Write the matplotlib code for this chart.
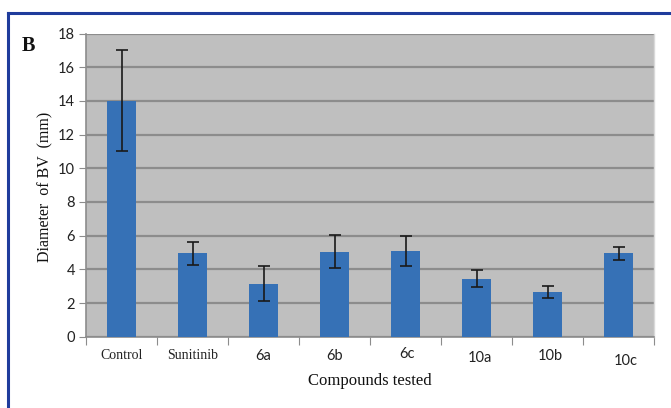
import matplotlib
matplotlib.use("Agg")
import matplotlib.pyplot as plt
import matplotlib.transforms as mtransforms
from matplotlib.lines import Line2D
import numpy as np

categories = ["Control", "Sunitinib", "6a", "6b", "6c", "10a", "10b", "10c"]
values = [14.0, 4.95, 3.15, 5.05, 5.1, 3.45, 2.65, 4.95]
errors = [3.0, 0.7, 1.02, 1.0, 0.9, 0.5, 0.37, 0.38]
yticks = [0, 2, 4, 6, 8, 10, 12, 14, 16, 18]

fig = plt.figure(figsize=(6.71, 4.08), dpi=100)
fig.patch.set_facecolor("white")
ax = fig.add_axes([86/671, 1-336.7/408, (654-86)/671, (336.7-33.5)/408])
ax.set_facecolor("#bfbfbf")

x = np.arange(len(categories))
ax.bar(x, values, width=0.41, color="#3671b6", zorder=3)
ax.errorbar(x, values, yerr=errors, fmt="none", ecolor="#1a1a1a",
            elinewidth=1.2, capsize=4, capthick=1.2, zorder=4)

ax.set_xlim(-0.5, len(categories) - 0.5)
ax.set_ylim(0, 18)
ax.set_yticks(yticks)
ax.yaxis.grid(True, color="#8c8c8c", linewidth=1.6, zorder=1)
ax.set_axisbelow(True)

ax.spines["top"].set_visible(False)
ax.spines["right"].set_color("#d9d9d9")
ax.spines["right"].set_linewidth(1.0)
ax.spines["left"].set_color("#8c8c8c")
ax.spines["bottom"].set_color("#8c8c8c")
ax.spines["left"].set_linewidth(1.2)
ax.spines["bottom"].set_linewidth(1.2)

ax.tick_params(axis="y", direction="out", length=5, color="#8c8c8c",
               labelsize=10.5, pad=3)
for lab in ax.get_yticklabels():
    lab.set_fontfamily("Lato")
    lab.set_color("#222222")

# x ticks at category boundaries
ax.set_xticks(np.arange(len(categories) + 1) - 0.5)
ax.set_xticklabels([])
ax.tick_params(axis="x", direction="out", length=6, color="#8c8c8c")

serif_cats = {"Control", "Sunitinib"}
offsets = {"Control": (0, 0), "Sunitinib": (0, 0), "6a": (0, 0), "6b": (0, 0),
           "6c": (1, 2), "10a": (3, -2), "10b": (3, 0), "10c": (7, -5)}
for i, c in enumerate(categories):
    dx, dy = offsets[c]
    tr = ax.get_xaxis_transform() + mtransforms.ScaledTranslation(dx/100, (dy-3)/100, fig.dpi_scale_trans)
    if c in serif_cats:
        ax.text(i, -0.03, c, transform=tr, ha="center", va="top",
                fontsize=10, family="Liberation Serif", color="#222222")
    else:
        ax.text(i, -0.03, c, transform=tr, ha="center", va="top",
                fontsize=10.5, family="Lato", color="#222222")

fig.text(370/671, 1-381/408, "Compounds tested", ha="center", va="center",
         fontsize=12, family="Liberation Serif", color="#111111")
fig.text(45/671, 1-187/408, "Diameter  of BV  (mm)", ha="center", va="center",
         rotation=90, fontsize=11.5, family="Liberation Serif", color="#111111")
fig.text(28/671, 1-46/408, "B", ha="center", va="center", fontsize=14.5,
         family="Liberation Serif", weight="bold", color="#111111")

# blue frame
fig.add_artist(Line2D([8/671, 1.0], [1-13/408, 1-13/408], transform=fig.transFigure,
                      color="#1f3c9c", linewidth=2.2))
fig.add_artist(Line2D([8/671, 8/671], [0, 1-13/408], transform=fig.transFigure,
                      color="#1f3c9c", linewidth=2.2))

fig.savefig("out.png", dpi=100)
